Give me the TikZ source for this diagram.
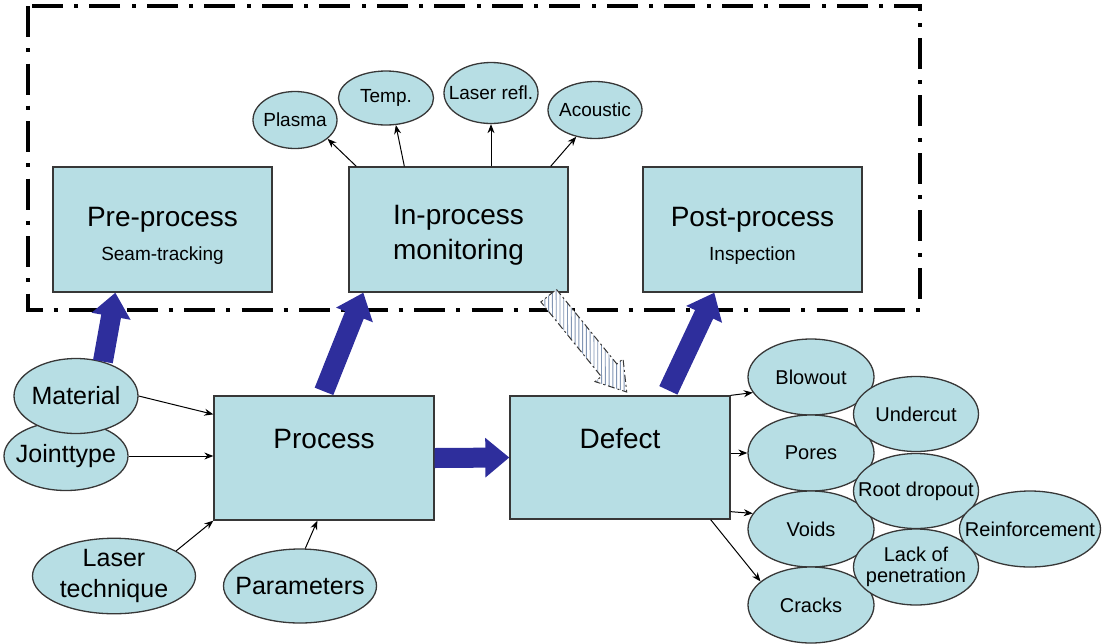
\documentclass[tikz,border=0pt]{standalone}
\usepackage{fontspec}
\setmainfont{Liberation Sans}
\usetikzlibrary{shapes.geometric, arrows.meta}
\definecolor{boxfill}{RGB}{183,222,228}
\definecolor{boxline}{RGB}{55,55,55}
\definecolor{navy}{RGB}{46,46,156}
\definecolor{hatch}{RGB}{130,150,180}
\newcommand\subtext{\fontsize{19}{24}\selectfont}
\newcommand\inell[1]{\makebox[0pt]{#1}}
\tikzset{
  stage/.style={draw=boxline, line width=1.3pt, fill=boxfill, minimum width=219pt,
    minimum height=125pt, inner sep=0pt, align=center, font=\fontsize{28}{35}\selectfont},
  blob/.style={ellipse, draw=boxline, line width=1.3pt, fill=boxfill, inner sep=0pt, align=center},
  sensor/.style={blob, font=\fontsize{19}{23}\selectfont},
  input/.style={blob, minimum width=124pt, minimum height=75pt, font=\fontsize{25}{31}\selectfont},
  fault/.style={blob, minimum width=126pt, minimum height=76pt, font=\fontsize{20}{25}\selectfont},
  feed/.style={-{Stealth[length=9pt,width=7pt]}, line width=1pt, black},
  flow/.style={-{Triangle[length=24pt,width=38pt]}, line width=20pt, navy},
  frame/.style={line width=3.3pt, dash pattern=on 31pt off 11pt on 4pt off 11.5pt},
}
\begin{document}
\begin{tikzpicture}[x=1pt, y=-1pt]
  \useasboundingbox (0,0) rectangle (1102,643);
  \draw[frame] (28,6) rectangle (920,310);

  \node[stage] (pre)  at (162.5,229.5) {\rule{0pt}{32pt}Pre-process\\[-1pt]{\subtext Seam-tracking}};
  \node[stage] (inp)  at (458.5,229.5) {\rule{0pt}{30pt}In-process\\monitoring};
  \node[stage] (post) at (752.5,229.5) {\rule{0pt}{32pt}Post-process\\[-1pt]{\subtext Inspection}};

  \node[sensor, minimum width=84pt, minimum height=57pt] (plasma) at (295,120) {\inell{Plasma}};
  \node[sensor, minimum width=95pt, minimum height=54pt] (temp)   at (386,98)  {\inell{Temp.}};
  \node[sensor, minimum width=94pt, minimum height=61pt] (lrefl)  at (491,93)  {\inell{Laser refl.}};
  \node[sensor, minimum width=94pt, minimum height=57pt] (acou)   at (595,110) {\inell{Acoustic}};

  \node[stage, minimum width=220pt, minimum height=124pt] (proc) at (324,458) {};
  \node[stage, minimum width=220pt, minimum height=123pt] (def)  at (620,457.5) {};
  \node[font=\fontsize{28}{35}\selectfont] at ([yshift=-44pt]proc.north) {Process};
  \node[font=\fontsize{28}{35}\selectfont] at ([yshift=-43pt]def.north) {Defect};

  \node[input, minimum height=69pt] (joint) at (66,456) {\inell{Jointtype}};
  \node[input] (mat) at (76,396) {\inell{Material}};
  \node[input, minimum width=163pt] (laser) at (114,576) {\inell{Laser}\\\inell{technique}};
  \node[input, minimum width=153pt, minimum height=74pt] (param) at (300,586) {\inell{Parameters}};

  \node[fault] (blow)   at (811,377) {\inell{Blowout}};
  \node[fault] (pores)  at (811,453) {\inell{Pores}};
  \node[fault] (voids)  at (811,529) {\inell{Voids}};
  \node[fault] (cracks) at (811,605) {\inell{Cracks}};
  \node[fault, minimum width=125pt, minimum height=75pt] (under) at (916,414) {\inell{Undercut}};
  \node[fault, minimum width=125pt, minimum height=75pt] (root)  at (916,491) {\inell{Root dropout}};
  \node[fault, minimum width=141pt] (reinf) at (1030,529) {\inell{Reinforcement}};
  \node[fault, minimum width=125pt, minimum height=76pt] (lack)  at (916,567) {\inell{Lack of}\\[-4pt]\inell{penetration}};

  \draw[feed] ([xshift=8pt]inp.north west) -- (plasma.-30);
  \draw[feed] ([xshift=56pt]inp.north west) -- (temp.-70);
  \draw[feed] (lrefl.south |- inp.north) -- (lrefl.south);
  \draw[feed] ([xshift=-18pt]inp.north east) -- (acou.-125);

  \draw[feed] (mat.east) -- ([yshift=-19pt]proc.north west);
  \draw[feed] (joint.east) -- (joint.east -| proc.west);
  \draw[feed] (laser.22) -- (proc.south west);
  \draw[feed] (param.82) -- ([xshift=104pt]proc.south west);

  \draw[feed] (def.north east) -- (blow.195);
  \draw[feed] (def.east |- pores.west) -- (pores.west);
  \draw[feed] ([yshift=8pt]def.south east) -- (voids.165);
  \draw[feed] ([xshift=-20pt]def.south east) -- (cracks.155);

  \draw[flow] (mat.52) -- ([xshift=63pt]pre.south west);
  \draw[flow] ([yshift=4pt]proc.north) -- ([xshift=15pt]inp.south west);
  \draw[flow] ([xshift=159pt,yshift=5pt]def.north west) -- ([xshift=72pt]post.south west);
  \draw[flow] (proc.east) -- (def.west);

  \coordinate (hatchtail) at ([xshift=-20pt,yshift=-3pt]inp.south east);
  \begin{scope}[shift={(hatchtail)}, rotate=-51]
    \fill[white] (0,-10) -- (96,-10) -- (96,-18) -- (124,0) -- (96,18) -- (96,10) -- (0,10) -- cycle;
    \begin{scope}
      \clip (0,-10) -- (96,-10) -- (96,-18) -- (124,0) -- (96,18) -- (96,10) -- (0,10) -- cycle;
      \foreach \t in {-30,-24,...,150}
        \draw[hatch, line width=0.9pt] (\t-31,-25) -- (\t+31,25);
    \end{scope}
    \draw[boxline, line width=1pt, dash pattern=on 7pt off 3pt on 2pt off 3pt]
      (0,-10) -- (96,-10) -- (96,-18) -- (124,0) -- (96,18) -- (96,10) -- (0,10) -- cycle;
  \end{scope}
\end{tikzpicture}
\end{document}
